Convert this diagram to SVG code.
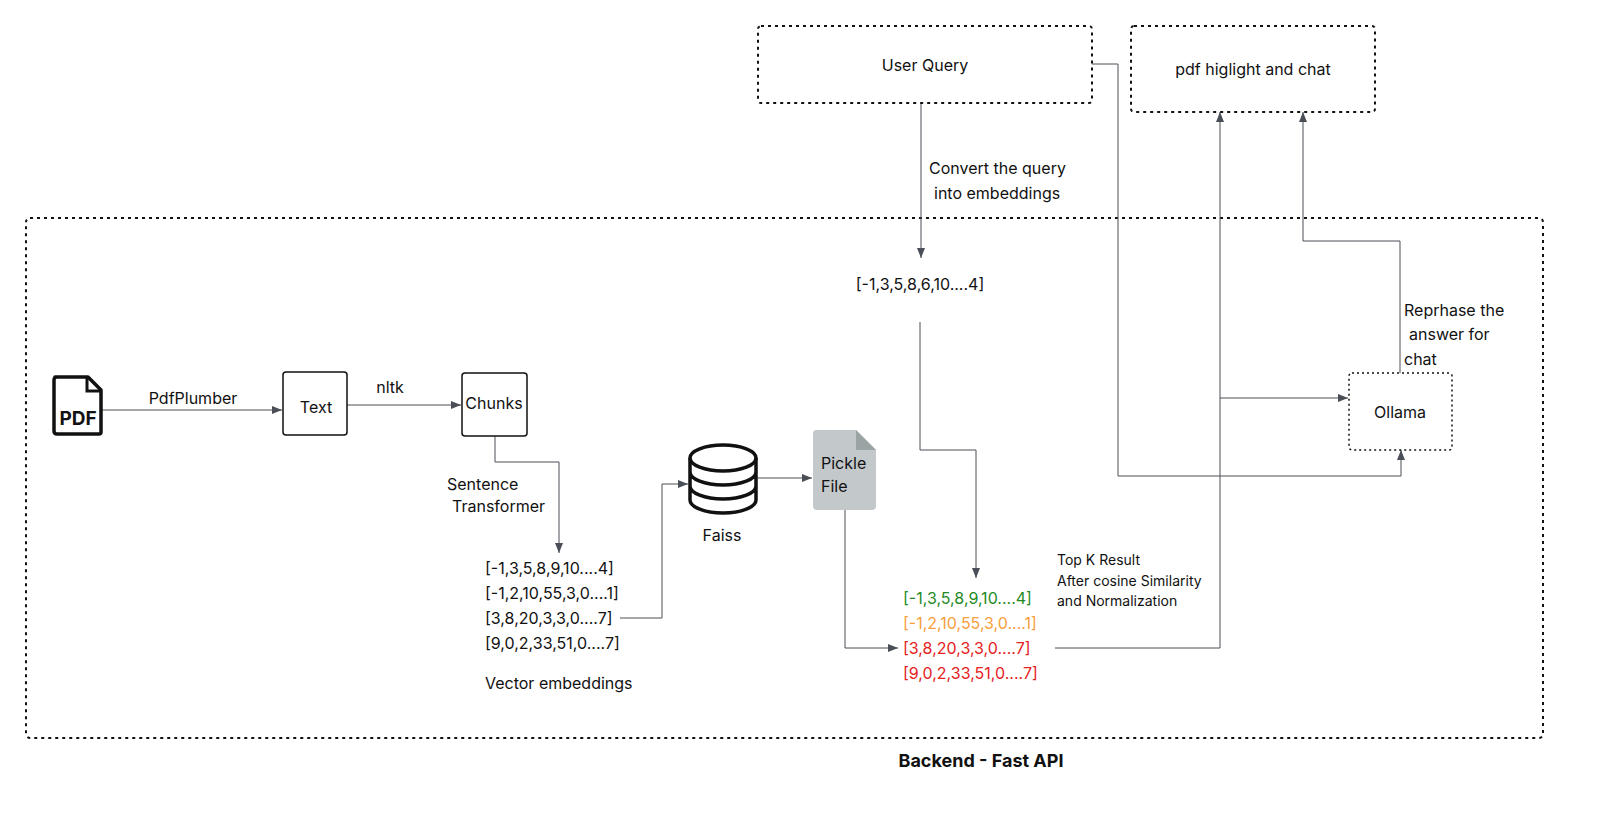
<svg xmlns="http://www.w3.org/2000/svg" width="1600" height="818" viewBox="0 0 1600 818">
<style>
text{font-family:Inter,"Liberation Sans",sans-serif;fill:#111;font-size:16px}
.c{stroke:#4a4f57;stroke-width:1;fill:none}
.b{fill:#fff;stroke:#111;stroke-width:1.5}
.d{fill:#fff;stroke:#111;stroke-width:2;stroke-dasharray:3 4}
.m{text-anchor:middle}
.s{font-size:14px}
</style>
<defs><marker id="a" viewBox="0 0 10 10" refX="10" refY="5" markerWidth="10" markerHeight="10" markerUnits="userSpaceOnUse" orient="auto"><path d="M0,1L10,5L0,9z" fill="#4a4f57"/></marker></defs>
<rect x="26" y="218" width="1517" height="520" rx="4" fill="none" stroke="#111" stroke-width="2" stroke-dasharray="3 4"/>
<text x="981" y="767" class="m" style="font-weight:bold;font-size:18px">Backend - Fast API</text>
<g id="connectors">
<path class="c" marker-end="url(#a)" d="M921,103V258"/>
<path class="c" marker-end="url(#a)" d="M920,322V450H976V578"/>
<path class="c" marker-end="url(#a)" d="M102,410H282"/>
<path class="c" marker-end="url(#a)" d="M347,405H461"/>
<path class="c" marker-end="url(#a)" d="M495,436V462H559V553"/>
<path class="c" marker-end="url(#a)" d="M620,618H662V484H688"/>
<path class="c" marker-end="url(#a)" d="M756,478H812"/>
<path class="c" marker-end="url(#a)" d="M845,510V648H898"/>
<path class="c" marker-end="url(#a)" d="M1055,648H1220V112"/>
<path class="c" marker-end="url(#a)" d="M1220,398H1348"/>
<path class="c" marker-end="url(#a)" d="M1092,64H1118V476H1401V450"/>
<path class="c" marker-end="url(#a)" d="M1400,373V241H1303V112"/>
<text x="929" y="174">Convert the query</text>
<text x="934" y="199">into embeddings</text>
<text x="193" y="404" class="m">PdfPlumber</text>
<text x="390" y="393" class="m">nltk</text>
<text x="447" y="490">Sentence</text>
<text x="452" y="512">Transformer</text>
<text x="1057" y="565" class="s">Top K Result</text>
<text x="1057" y="586" class="s">After cosine Similarity</text>
<text x="1057" y="606" class="s">and Normalization</text>
<text x="1404" y="316">Reprhase the</text>
<text x="1409" y="340">answer for</text>
<text x="1404" y="365">chat</text>
</g>
<g id="userquery"><rect class="d" x="758" y="26" width="334" height="77" rx="3"/><text x="925" y="71" class="m">User Query</text></g>
<g id="pdfchat"><rect class="d" x="1131" y="26" width="244" height="86" rx="3"/><text x="1253" y="75" class="m">pdf higlight and chat</text></g>
<g id="qvec"><text x="920" y="290" class="m">[-1,3,5,8,6,10....4]</text></g>
<g id="pdf"><path d="M55,377H88L101,390V432Q101,434 99,434H57Q54,434 54,431V380Q54,377 57,377Z" fill="#fff" stroke="#111" stroke-width="3.5" stroke-linejoin="round"/><path d="M87,378V391H100" fill="none" stroke="#111" stroke-width="3"/><text x="78" y="425" class="m" style="font-size:19px;font-weight:bold">PDF</text></g>
<g id="text"><rect class="b" x="283" y="372" width="64" height="63" rx="3"/><text x="316" y="413" class="m">Text</text></g>
<g id="chunks"><rect class="b" x="462" y="373" width="65" height="63" rx="3"/><text x="494" y="409" class="m">Chunks</text></g>
<g id="vectors"><text x="485" y="574">[-1,3,5,8,9,10....4]</text><text x="485" y="599">[-1,2,10,55,3,0....1]</text><text x="485" y="624">[3,8,20,3,3,0....7]</text><text x="485" y="649">[9,0,2,33,51,0....7]</text><text x="485" y="689">Vector embeddings</text></g>
<g id="faiss" fill="none" stroke="#111" stroke-width="3.5"><ellipse cx="723" cy="458" rx="33" ry="13"/><path d="M690,458V500A33,13 0 0 0 756,500V458M690,472A33,13 0 0 0 756,472M690,486A33,13 0 0 0 756,486"/><text x="722" y="541" class="m" stroke="none" style="fill:#111">Faiss</text></g>
<g id="pickle"><path d="M816,430H856L876,450V506Q876,510 872,510H817Q813,510 813,506V434Q813,430 816,430Z" fill="#c3c8cb"/><path d="M856,430V450H876Z" fill="#9aa4a4"/><text x="821" y="469">Pickle</text><text x="821" y="492">File</text></g>
<g id="results"><text x="903" y="604" style="fill:#1f8a1f">[-1,3,5,8,9,10....4]</text><text x="903" y="629" style="fill:#f7a03c">[-1,2,10,55,3,0....1]</text><text x="903" y="654" style="fill:#e5211d">[3,8,20,3,3,0....7]</text><text x="903" y="679" style="fill:#e5211d">[9,0,2,33,51,0....7]</text></g>
<g id="ollama"><rect x="1349" y="373" width="103" height="77" rx="3" fill="#fff" stroke="#111" stroke-width="1.5" stroke-dasharray="2 3"/><text x="1400" y="418" class="m">Ollama</text></g>
</svg>
